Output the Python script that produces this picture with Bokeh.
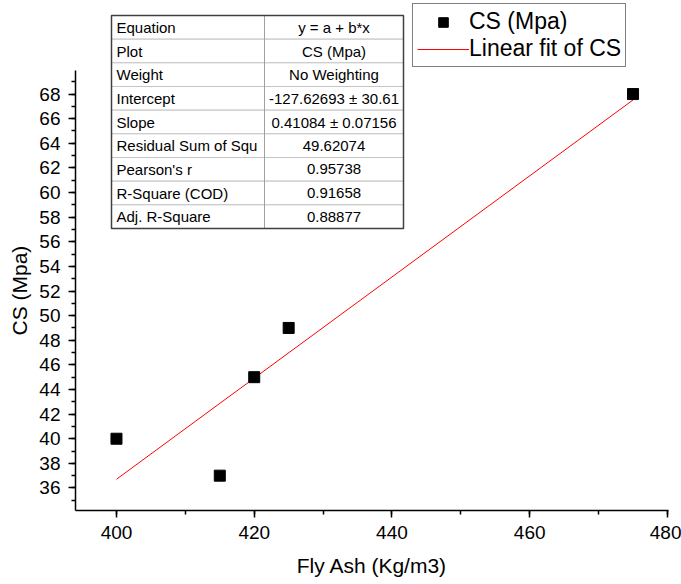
import numpy as np
from bokeh.plotting import figure
from bokeh.models import Range1d, SingleIntervalTicker, Legend, LegendItem, Title
from bokeh.core.properties import value
from bokeh.embed import file_html
from bokeh.resources import INLINE

# ---- data ----
fly_ash = [400, 415, 420, 425, 475]
cs = [40, 37, 45, 49, 68]

table_labels = ["Equation", "Plot", "Weight", "Intercept", "Slope",
                "Residual Sum of Squ", "Pearson's r", "R-Square (COD)", "Adj. R-Square"]
table_values = ["y = a + b*x", "CS (Mpa)", "No Weighting", "-127.62693 \u00b1 30.61",
                "0.41084 \u00b1 0.07156", "49.62074", "0.95738", "0.91658", "0.88877"]

# ---- layout ----
FONT = "Liberation Sans"
W, H = 681, 584
ML, MR, MT, MB = 75, 13, 0, 74
FW, FH = W - ML - MR, H - MT - MB

X_LO, X_HI = 394.05, 480.15
Y_LO, Y_AXIS_HI, Y_HI = 34.17, 69.91, 75.6

p = figure(width=W, height=H, output_backend="svg", toolbar_location=None,
           x_range=Range1d(X_LO, X_HI), y_range=Range1d(Y_LO, Y_HI),
           min_border_left=ML, min_border_right=MR, min_border_top=MT,
           min_border_bottom=MB)
p.extra_x_ranges = {"px": Range1d(0, FW)}
p.extra_y_ranges = {"px": Range1d(FH, 0)}
p.outline_line_color = None
p.grid.visible = False
p.background_fill_color = "white"
p.border_fill_color = "white"

# axes
p.xaxis.ticker = SingleIntervalTicker(interval=20, num_minor_ticks=2)
p.yaxis.ticker = SingleIntervalTicker(interval=2, num_minor_ticks=2)
p.yaxis.bounds = (Y_LO, Y_AXIS_HI)
for ax in (p.xaxis[0], p.yaxis[0]):
    ax.axis_line_color = "black"
    ax.axis_line_width = 1.5
    ax.major_tick_line_color = "black"
    ax.minor_tick_line_color = "black"
    ax.major_tick_line_width = 1.5
    ax.minor_tick_line_width = 1.5
    ax.major_tick_in = 0
    ax.major_tick_out = 7
    ax.minor_tick_in = 0
    ax.minor_tick_out = 4
    ax.major_label_text_font = FONT
    ax.major_label_text_font_size = "19px"
    ax.major_label_text_color = "black"
    ax.major_label_standoff = 8
p.xaxis.axis_label = "Fly Ash (Kg/m3)"
p.xaxis.axis_label_text_font = FONT
p.xaxis.axis_label_text_font_size = "21px"
p.xaxis.axis_label_text_font_style = "normal"
p.xaxis.axis_label_text_color = "black"
p.xaxis.axis_label_standoff = 12

# y-axis title placed in the left side panel, centred on the drawn axis span
ytitle = Title(text="CS (Mpa)", align="left", offset=175, standoff=11,
               text_font=FONT, text_font_size="21px", text_font_style="normal",
               text_color="black")
p.add_layout(ytitle, "left")

# fit
b, a = np.polyfit(fly_ash, cs, 1)
fit_x = np.array([min(fly_ash), max(fly_ash)], dtype=float)
fit_y = a + b * fit_x

r_line = p.line(fit_x, fit_y, line_color="#ff0000", line_width=1)
r_pts = p.scatter(fly_ash, cs, marker="square", size=11,
                  fill_color="black", line_color="black")

legend = Legend(items=[LegendItem(label="CS (Mpa)", renderers=[r_pts]),
                       LegendItem(label="Linear fit of CS", renderers=[r_line])],
                location=(337, 443))
legend.label_text_font = FONT
legend.label_text_font_size = "23px"
legend.label_text_color = "black"
legend.glyph_width = 52
legend.glyph_height = 24
legend.label_height = 24
legend.label_standoff = 0
legend.spacing = 0
legend.padding = 4
legend.margin = 0
legend.border_line_color = "black"
legend.border_line_width = 1
legend.background_fill_color = "white"
legend.background_fill_alpha = 1
p.add_layout(legend)

# stats table (pixel coordinates inside the frame)
T_L, T_R, T_T, T_B, T_DIV = 36, 328, 15, 228, 189
n = len(table_labels)
rh = (T_B - T_T) / n
tops = [T_T + i * rh for i in range(n)]
bots = [t + rh for t in tops]
mids = [t + rh / 2 for t in tops]
p.quad(left=T_L, right=T_R, top=tops, bottom=bots, fill_color="white",
       line_color="#c4c4c4", line_width=1, x_range_name="px", y_range_name="px")
p.segment(x0=[T_DIV], y0=[T_T], x1=[T_DIV], y1=[T_B], line_color="#a0a0a0",
          line_width=1, x_range_name="px", y_range_name="px")
p.quad(left=[T_L], right=[T_R], top=[T_T], bottom=[T_B], fill_color=None,
       line_color="#404040", line_width=1.5, x_range_name="px", y_range_name="px")
p.text(x=[T_L + 5] * n, y=mids, text=table_labels, text_font=value(FONT),
       text_font_size="15px", text_align="left", text_baseline="middle",
       text_color="black", x_range_name="px", y_range_name="px")
p.text(x=[(T_DIV + T_R) / 2] * n, y=mids, text=table_values, text_font=value(FONT),
       text_font_size="15px", text_align="center", text_baseline="middle",
       text_color="black", x_range_name="px", y_range_name="px")

open("out.html", "w").write(file_html(p, INLINE))
